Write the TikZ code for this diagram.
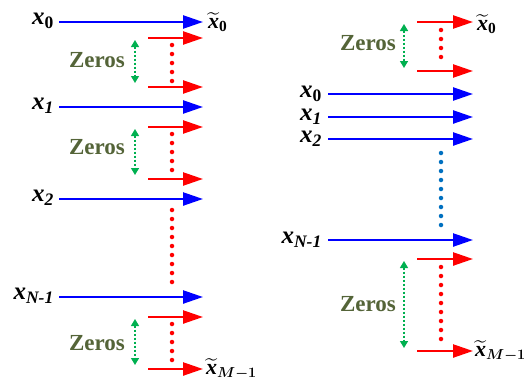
\documentclass[tikz,border=0pt]{standalone}
\usepackage{amsmath,amssymb,bm}
\usepackage{fontspec}
\setmainfont{Liberation Serif}
\usetikzlibrary{arrows.meta, calc}
\definecolor{sigblue}{RGB}{0, 0, 255}
\definecolor{zpred}{RGB}{255, 0, 0}
\definecolor{zpgreen}{RGB}{0, 176, 80}
\definecolor{dotblue}{RGB}{0, 112, 192}
\definecolor{zeroolive}{RGB}{84, 100, 56}
\newcommand{\xin}[1]{\textbf{\textit{x}}$_{#1}$}
\newcommand{\xout}[1]{$\widetilde{\text{\bfseries\itshape x}}_{#1}$}
\tikzset{
  inarrow/.style={line width=2.4pt, sigblue, -{Triangle[length=20pt, width=13pt]}},
  padarrow/.style={line width=2.4pt, zpred, -{Triangle[length=20pt, width=13pt]}},
  gap/.style={line width=1.4pt, zpgreen, dash pattern=on 2.5pt off 1.5pt,
    {Triangle[length=7pt, width=8pt]}-{Triangle[length=7pt, width=8pt]}},
  dots/.style={line width=4.5pt, line cap=round, dash pattern=on 0pt off 9pt},
  inlabel/.style={anchor=east, inner sep=0pt, font=\fontsize{25}{25}\selectfont},
  outlabel/.style={anchor=west, inner sep=0pt, font=\fontsize{22}{22}\selectfont},
  zeroslabel/.style={zeroolive, inner sep=0pt, font=\fontsize{23}{23}\selectfont\bfseries}
}
\begin{document}
\begin{tikzpicture}[x=1pt, y=-1pt]
  \useasboundingbox (0,0) rectangle (526,383);

  % left: zeros between the samples
  \node[inlabel] (lx0) at (54,21) {\xin{\textbf{0}}};
  \node[inlabel] (lx1) at (54,106) {\xin{\textbf{\textit{1}}}};
  \node[inlabel] (lx2) at (54,198) {\xin{\textbf{\textit{2}}}};
  \node[inlabel] (lxn) at (54,296) {\xin{\textbf{\textit{N-1}}}};
  \foreach \y in {22, 107, 199, 297}
    \draw[inarrow] (59,\y) -- (203,\y);

  \foreach \a/\b/\z in {38/87/60, 127/179/147, 317/369/343} {
    \draw[padarrow] (148,\a) -- (203,\a);
    \draw[padarrow] (148,\b) -- (203,\b);
    \draw[dots, zpred] (172,\a+7) -- (172,\b-6);
    \draw[gap] (135,\a+2) -- (135,\b-4);
    \node[zeroslabel] (lz\z) at (97,\z) {Zeros};
  }
  \draw[dots, zpred] (172,210) -- (172,288);

  \node[outlabel] (ly0) at (208,22) {\xout{\mathbf{0}}};
  \node[outlabel] (lym) at (206,369) {\xout{\bm{M-1}}};

  % right: zeros at both ends
  \node[inlabel] (rx0) at (322,94) {\xin{\textbf{0}}};
  \node[inlabel] (rx1) at (322,117) {\xin{\textbf{\textit{1}}}};
  \node[inlabel] (rx2) at (322,139) {\xin{\textbf{\textit{2}}}};
  \node[inlabel] (rxn) at (322,240) {\xin{\textbf{\textit{N-1}}}};
  \foreach \y in {94, 117, 139, 240}
    \draw[inarrow] (328,\y) -- (473,\y);
  \draw[dots, dotblue] (441,153) -- (441,229);

  \foreach \a/\b/\z in {22/71/43, 259/351/304} {
    \draw[padarrow] (417,\a) -- (473,\a);
    \draw[padarrow] (417,\b) -- (473,\b);
    \draw[dots, zpred] (441,\a+8) -- (441,\b-8);
    \draw[gap] (404,\a+2) -- (404,\b-3);
    \node[zeroslabel] (rz\z) at (368,\z) {Zeros};
  }

  \node[outlabel] (ry0) at (477,24) {\xout{\mathbf{0}}};
  \node[outlabel] (rym) at (475,351) {\xout{\bm{M-1}}};
\end{tikzpicture}
\end{document}
